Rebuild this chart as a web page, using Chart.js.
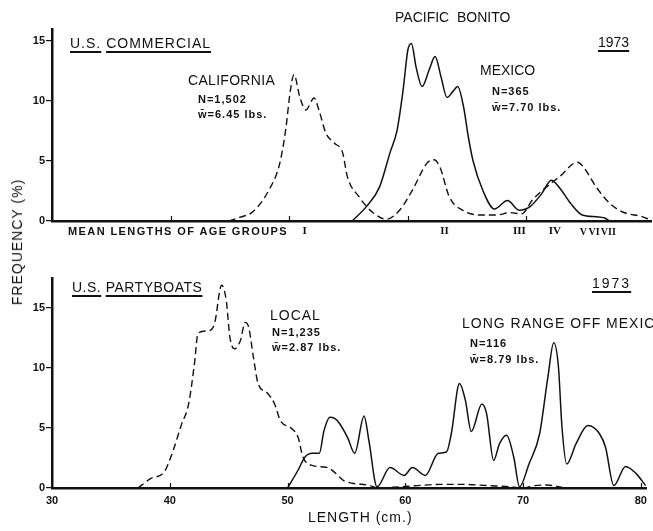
<!DOCTYPE html>
<html><head><meta charset="utf-8">
<script src="https://cdn.jsdelivr.net/npm/chart.js@4/dist/chart.umd.min.js"></script>
<style>
html,body{margin:0;padding:0;background:#fff;}
#wrap{position:relative;width:653px;height:531px;overflow:hidden;font-family:"Liberation Sans",Arial,sans-serif;color:#111;}
#wrap canvas{position:absolute;left:0;}
.t{position:absolute;white-space:nowrap;line-height:1;}
.big{font-size:14px;}
.sm{font-size:11px;font-weight:bold;letter-spacing:1px;}
.ul{text-decoration:underline;text-decoration-thickness:1.5px;text-underline-offset:3px;}
</style></head>
<body>
<div id="wrap">
  <canvas id="top" width="653" height="240" style="top:0;width:653px;height:240px"></canvas>
  <canvas id="bot" width="653" height="281" style="top:250px;width:653px;height:281px"></canvas>

  <div class="t big" style="left:395px;top:10px;">PACIFIC&nbsp;&nbsp;BONITO</div>
  <div class="t big" style="left:598px;top:35px;"><span class="ul">1973</span></div>
  <div class="t big" style="left:70px;top:36px;letter-spacing:1px;"><span class="ul">U.S.</span> <span class="ul">COMMERCIAL</span></div>
  <div class="t big" style="left:188px;top:73px;letter-spacing:0.3px;">CALIFORNIA</div>
  <div class="t sm" style="left:198px;top:94px;">N=1,502</div>
  <div class="t sm" style="left:198px;top:109px;">w&#772;=6.45 lbs.</div>
  <div class="t big" style="left:480px;top:63px;">MEXICO</div>
  <div class="t sm" style="left:492px;top:86px;">N=365</div>
  <div class="t sm" style="left:492px;top:102px;">w&#772;=7.70 lbs.</div>
  <div class="t" style="left:68px;top:226px;font-size:11px;font-weight:bold;letter-spacing:1.4px;">MEAN LENGTHS OF AGE GROUPS</div>

  <div class="t big" style="left:72px;top:280px;letter-spacing:0.5px;"><span class="ul">U.S.</span> <span class="ul">PARTYBOATS</span></div>
  <div class="t big" style="left:592px;top:276px;letter-spacing:2px;"><span class="ul">1973</span></div>
  <div class="t big" style="left:270px;top:308px;letter-spacing:1px;">LOCAL</div>
  <div class="t sm" style="left:272px;top:327px;">N=1,235</div>
  <div class="t sm" style="left:272px;top:342px;">w&#772;=2.87 lbs.</div>
  <div class="t big" style="left:462px;top:316px;letter-spacing:1px;">LONG RANGE OFF MEXICO</div>
  <div class="t sm" style="left:470px;top:338px;">N=116</div>
  <div class="t sm" style="left:470px;top:354px;">w&#772;=8.79 lbs.</div>

  <div class="t big" style="left:17px;top:242px;letter-spacing:1px;transform:translate(-50%,-50%) rotate(-90deg);">FREQUENCY (%)</div>
  <div class="t big" style="left:308px;top:510px;letter-spacing:1px;">LENGTH (cm.)</div>
</div>
<script>
// ---- data ----
const xMin = 30, xMax = 80.5;
const yTicksTop = [0, 5, 10, 15];
const yTicksBottom = [0, 5, 10, 15];
const xTicksBottom = [30, 40, 50, 60, 70, 80];
const xMarksTop = [40, 50, 60, 70];
const ageGroups = ['I', 'II', 'III', 'IV', 'V', 'VI', 'VII'];
const ageMeans = [51.3, 63.1, 69.4, 72.4, 74.8, 75.7, 76.9];

const californiaLen = [44.9, 45.8, 46.9, 48.3, 49.2, 49.7, 50.1, 50.4, 50.9, 51.4, 52.1, 52.5, 53.1, 53.8, 54.5, 54.9, 55.9, 57.0, 58.2, 59.3, 60.4, 61.6, 62.2, 62.7, 63.5, 64.6, 66.1, 67.5, 68.6, 69.6, 70.5, 71.4, 72.8, 74.3, 74.8, 75.9, 77.0, 78.1, 79.8, 80.4];
const californiaFreq = [0, 0.3, 0.75, 2.6, 4.8, 7.6, 10.9, 12.2, 10.3, 9.25, 10.25, 9.25, 7.3, 6.5, 5.7, 3.7, 2.0, 0.75, 0.15, 0.9, 2.6, 4.8, 5.1, 4.5, 2.0, 0.9, 0.5, 0.5, 0.7, 0.6, 1.75, 2.6, 3.7, 4.9, 4.5, 2.8, 1.5, 0.75, 0.35, 0.1];

const mexicoLen = [55.3, 56.5, 57.6, 58.5, 59.1, 59.6, 60.0, 60.3, 60.7, 61.2, 61.8, 62.3, 62.8, 63.3, 63.8, 64.2, 64.7, 65.1, 65.5, 66.3, 67.3, 68.4, 69.4, 70.3, 71.3, 72.1, 72.8, 73.7, 74.7, 75.9, 76.6, 77.0];
const mexicoFreq = [0, 1.2, 2.8, 5.7, 7.6, 10.9, 14.25, 14.8, 12.8, 11.2, 12.6, 13.7, 12.0, 10.3, 10.8, 11.2, 9.5, 7.0, 5.0, 2.6, 1.0, 1.7, 0.9, 1.2, 2.3, 3.4, 2.75, 1.5, 0.5, 0.35, 0.25, 0];

const localLen = [37.3, 38.4, 39.5, 40.1, 41.0, 41.6, 42.1, 42.4, 43.3, 43.8, 44.4, 44.8, 45.1, 45.5, 46.0, 46.4, 46.7, 47.1, 47.5, 48.3, 48.9, 49.4, 50.3, 50.9, 51.3, 52.0, 53.4, 54.0, 54.8, 55.5, 57.0, 57.6, 59.5, 61.0, 63.0, 65.0, 67.0, 69.0, 70.0, 71.0, 72.0, 73.5];
const localFreq = [0, 0.8, 1.3, 2.6, 5.3, 7.0, 10.4, 12.9, 13.1, 13.7, 16.9, 15.6, 12.6, 11.6, 12.3, 13.8, 13.4, 10.9, 8.7, 7.9, 7.0, 5.6, 5.0, 4.2, 2.6, 1.9, 1.7, 1.3, 0.6, 0.4, 0.2, 0, 0.1, 0.2, 0.3, 0.3, 0.2, 0.1, 0, 0.2, 0.25, 0];

const longRangeLen = [50.0, 50.9, 51.5, 52.1, 52.7, 53.1, 53.6, 54.0, 54.4, 55.1, 55.7, 56.5, 56.9, 57.6, 58.7, 59.9, 60.6, 61.7, 62.8, 63.5, 63.9, 64.6, 65.1, 65.6, 66.5, 66.9, 67.5, 68.0, 68.6, 69.2, 69.7, 70.5, 71.4, 72.1, 72.6, 73.0, 73.3, 73.7, 74.5, 75.5, 76.5, 77.0, 77.7, 78.7, 79.6, 80.4];
const longRangeFreq = [0, 1.5, 2.6, 2.9, 2.9, 4.8, 5.9, 5.8, 5.4, 4.2, 2.9, 6.0, 4.0, 0.1, 1.7, 1.05, 1.7, 1.05, 2.9, 3.0, 4.5, 8.7, 7.3, 4.7, 7.0, 6.2, 2.3, 3.7, 4.4, 2.6, 0.1, 2.0, 4.5, 9.2, 12.1, 10.1, 5.1, 2.0, 3.7, 5.2, 4.5, 3.4, 0.2, 1.8, 1.2, 0.2];

// ---- helpers ----
const pts = (xs, ys) => xs.map((x, i) => ({x: x, y: ys[i]}));
const INK = '#111';
const dashed = (label, xs, ys) => ({label, data: pts(xs, ys), borderColor: INK, borderWidth: 1.4, borderDash: [7, 4], pointRadius: 0, showLine: true, fill: false, cubicInterpolationMode: 'monotone'});
const solid = (label, xs, ys) => ({label, data: pts(xs, ys), borderColor: INK, borderWidth: 1.5, pointRadius: 0, showLine: true, fill: false, cubicInterpolationMode: 'monotone'});

function inwardTicks(values, len) {
  return {
    id: 'inwardTicks',
    afterDraw(chart) {
      const {ctx, scales: {x}, chartArea} = chart;
      ctx.save();
      ctx.strokeStyle = INK; ctx.lineWidth = 1.2;
      values.forEach(v => {
        const px = Math.round(x.getPixelForValue(v)) + 0.5;
        ctx.beginPath(); ctx.moveTo(px, chartArea.bottom); ctx.lineTo(px, chartArea.bottom - len); ctx.stroke();
      });
      ctx.restore();
    }
  };
}
const ageLabels = {
  id: 'ageLabels',
  afterDraw(chart) {
    const {ctx, scales: {x}} = chart;
    ctx.save();
    ctx.fillStyle = INK;
    ctx.textAlign = 'center'; ctx.textBaseline = 'top';
    ageGroups.forEach((g, i) => {
      ctx.font = (i >= 4 ? 'bold 10px' : 'bold 11px') + ' "Liberation Serif", serif';
      ctx.fillText(g, x.getPixelForValue(ageMeans[i]), i >= 4 ? 227 : 226);
    });
    ctx.restore();
  }
};

function yScale(max, tickVals) {
  return {
    type: 'linear', min: 0, max: max,
    afterBuildTicks: s => { s.ticks = tickVals.map(v => ({value: v})); },
    afterFit: s => { s.width = 52; },
    grid: {display: true, drawOnChartArea: false, drawTicks: true, tickLength: 6, color: INK, lineWidth: 1.2},
    border: {display: true, color: INK, width: 2.5},
    ticks: {padding: 1, color: INK, font: {family: '"Liberation Sans", Arial', size: 11, weight: 'bold'}}
  };
}

Chart.defaults.animation = false;
Chart.defaults.responsive = false;

new Chart(document.getElementById('top'), {
  type: 'scatter',
  data: {datasets: [dashed('California', californiaLen, californiaFreq), solid('Mexico', mexicoLen, mexicoFreq)]},
  options: {
    layout: {padding: {top: 29, right: 2, left: 0, bottom: 0}},
    plugins: {legend: {display: false}, tooltip: {enabled: false}},
    scales: {
      x: {type: 'linear', min: xMin, max: xMax,
          afterFit: s => { s.height = 19; },
          grid: {display: false, drawTicks: false}, ticks: {display: false},
          border: {display: true, color: INK, width: 2.5}},
      y: yScale(16, yTicksTop)
    }
  },
  plugins: [inwardTicks(xMarksTop, 5), ageLabels]
});

new Chart(document.getElementById('bot'), {
  type: 'scatter',
  data: {datasets: [dashed('Local', localLen, localFreq), solid('Long range off Mexico', longRangeLen, longRangeFreq)]},
  options: {
    layout: {padding: {top: 28, right: 2, left: 0, bottom: 0}},
    plugins: {legend: {display: false}, tooltip: {enabled: false}},
    scales: {
      x: {type: 'linear', min: xMin, max: xMax,
          afterBuildTicks: s => { s.ticks = xTicksBottom.map(v => ({value: v})); },
          afterFit: s => { s.height = 43; },
          grid: {display: false, drawTicks: false},
          border: {display: true, color: INK, width: 2.5},
          ticks: {padding: 6, maxRotation: 0, autoSkip: false, color: INK, font: {family: '"Liberation Sans", Arial', size: 11, weight: 'bold'}}},
      y: yScale(17.5, yTicksBottom)
    }
  },
  plugins: [inwardTicks(xTicksBottom.slice(1), 5)]
});
</script>
</body></html>
